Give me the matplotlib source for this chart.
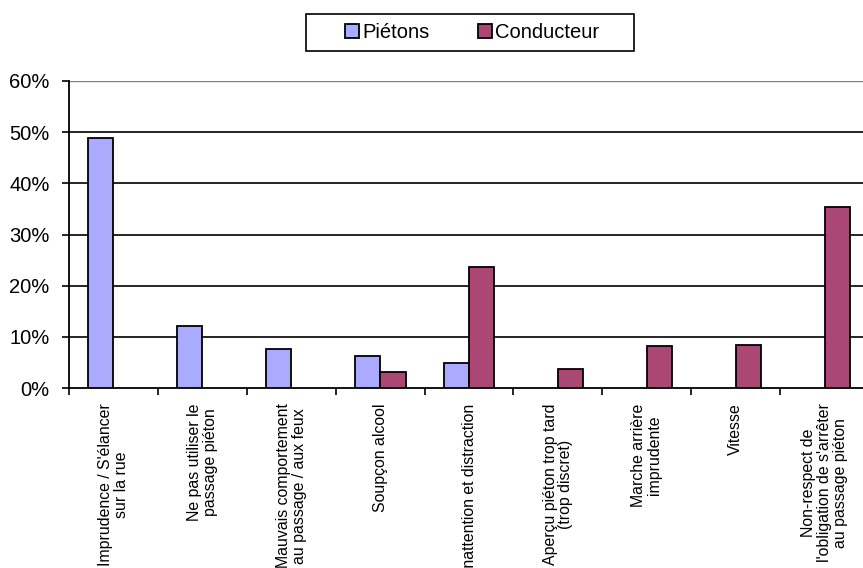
import matplotlib
matplotlib.use("Agg")
import matplotlib.pyplot as plt
from matplotlib.patches import Rectangle
import numpy as np

categories = [
    "Imprudence / S'élancer\nsur la rue",
    "Ne pas utiliser le\npassage piéton",
    "Mauvais comportement\nau passage / aux feux",
    "Soupçon alcool",
    "Inattention et distraction",
    "Aperçu piéton trop tard\n(trop discret)",
    "Marche arrière\nimprudente",
    "Vitesse",
    "Non-respect de\nl'obligation de s'arrêter\nau passage piéton",
]
pietons = [48.8, 12.1, 7.6, 6.2, 4.9, 0, 0, 0, 0]
conducteur = [0, 0, 0, 3.1, 23.6, 3.7, 8.2, 8.4, 35.3]
yticks = [0, 10, 20, 30, 40, 50, 60]
ytick_labels = ["0%", "10%", "20%", "30%", "40%", "50%", "60%"]

plt.rcParams['font.family'] = ['Liberation Sans', 'DejaVu Sans']

fig = plt.figure(figsize=(8.63, 5.68), dpi=100)
ax = fig.add_axes([69/863, (568-388)/568, 800/863, (388-81)/568])

x = np.arange(len(categories))
w = 1/3.5
blue = "#AAAAFF"
red = "#AA4774"
for i in range(len(categories)):
    if pietons[i] > 0:
        ax.bar(x[i]-w/2, pietons[i], w, color=blue, edgecolor="black", linewidth=1.3, zorder=3, label="Piétons" if i == 0 else None)
    if conducteur[i] > 0:
        ax.bar(x[i]+w/2, conducteur[i], w, color=red, edgecolor="black", linewidth=1.3, zorder=3, label="Conducteur" if i == 3 else None)

ax.set_xlim(-0.5, len(categories)-0.5)
ax.set_ylim(0, 60)
ax.set_yticks(yticks)
ax.set_yticklabels(ytick_labels, fontsize=14.5)
for yv in yticks[1:-1]:
    ax.axhline(yv, color="black", linewidth=1.2, zorder=1)
ax.axhline(60, color="#808080", linewidth=1.0, zorder=1)

ax.set_xticks(np.arange(len(categories)+1)-0.5)
ax.set_xticklabels([])
ax.tick_params(axis='x', direction='out', length=5, width=1.2)
ax.tick_params(axis='y', direction='out', length=5, width=1.2, pad=9)
for s in ['top', 'right']:
    ax.spines[s].set_visible(False)
ax.spines['left'].set_linewidth(1.3)
ax.spines['bottom'].set_linewidth(1.3)

for i, lab in enumerate(categories):
    ax.text(x[i], -3.0, lab, rotation=90, ha='center', va='top', multialignment='center',
            fontsize=11.4, linespacing=1.05, transform=ax.transData, clip_on=False)

handles = ax.get_legend_handles_labels()[0]
leg = fig.legend(handles=handles, labels=["Piétons", "Conducteur"],
                 loc='center', bbox_to_anchor=(472/863, 1-32.5/568), ncol=2, fontsize=14.5,
                 frameon=False, handlelength=0.7, handleheight=0.7,
                 handletextpad=0.15, columnspacing=2.4, borderpad=0.2)
fig.patches.append(Rectangle((306/863, 1-51/568), 328/863, 37/568, transform=fig.transFigure,
                             fill=False, edgecolor="black", linewidth=1.2))

fig.savefig("out.png", dpi=100)
